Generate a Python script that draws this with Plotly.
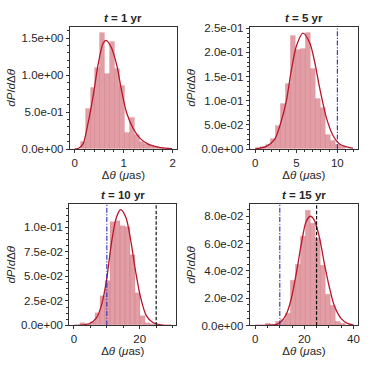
import numpy as np
import plotly.graph_objects as go

# ---------------- data ----------------
titles = ["<b><i>t</i> = 1 yr</b>", "<b><i>t</i> = 5 yr</b>",
          "<b><i>t</i> = 10 yr</b>", "<b><i>t</i> = 15 yr</b>"]

# panel 1 (t = 1 yr)
p1_bin_start = 0.12
p1_bin_width = 0.10
p1_hist = [0.10, 0.55, 0.83, 1.10, 1.575, 1.02, 1.45, 1.08, 0.85, 0.22, 0.43,
           0.20, 0.10, 0.07, 0.04, 0.03, 0.02, 0.01]
p1_curve_x = [0.0, 0.08, 0.17, 0.27, 0.38, 0.48, 0.58, 0.64, 0.75, 0.86, 0.96,
              1.06, 1.20, 1.34, 1.50, 1.68, 1.85, 1.99]
p1_curve_y = [0.0, 0.01, 0.07, 0.34, 0.73, 1.15, 1.43, 1.47, 1.37, 1.13, 0.78,
              0.49, 0.27, 0.14, 0.066, 0.03, 0.012, 0.005]
p1_xticks = [0, 1, 2]
p1_yticks = [0.0, 0.5, 1.0, 1.5]
p1_yticktext = ["0.0e+00", "5.0e-01", "1.0e+00", "1.5e+00"]

# panel 2 (t = 5 yr)
p2_bin_start = 0.08
p2_bin_width = 0.61
p2_hist = [0.002, 0.005, 0.010, 0.022, 0.048, 0.093, 0.136, 0.235, 0.205, 0.207,
           0.241, 0.167, 0.105, 0.086, 0.029, 0.017, 0.010, 0.005]
p2_curve_x = [0.0, 1.3, 2.36, 3.17, 3.78, 4.39, 5.0, 5.8, 6.63, 7.24, 7.85, 8.66,
              9.47, 10.3, 11.5, 11.9]
p2_curve_y = [0.0005, 0.005, 0.02, 0.058, 0.099, 0.163, 0.213, 0.240, 0.220, 0.180,
              0.126, 0.065, 0.028, 0.010, 0.003, 0.002]
p2_xticks = [0, 5, 10]
p2_yticks = [0.0, 0.05, 0.10, 0.15, 0.20, 0.25]
p2_yticktext = ["0.0e+00", "5.0e-02", "1.0e-01", "1.5e-01", "2.0e-01", "2.5e-01"]
p2_vline_blue = [10]
p2_vline_black = []

# panel 3 (t = 10 yr)
p3_bin_start = 1.82
p3_bin_width = 1.52
p3_hist = [0.0026, 0.001, 0.0036, 0.013, 0.030, 0.045, 0.105, 0.106, 0.101, 0.100,
           0.072, 0.033, 0.010, 0.003, 0.001]
p3_curve_x = [0.0, 1.8, 4.8, 6.9, 8.4, 9.9, 11.4, 12.9, 14.2, 15.8, 17.3, 18.8,
              20.3, 22.0, 24.0, 27.0, 29.6]
p3_curve_y = [0.0, 0.0003, 0.002, 0.008, 0.021, 0.046, 0.084, 0.110, 0.118, 0.110,
              0.086, 0.054, 0.028, 0.010, 0.003, 0.0003, 0.0]
p3_xticks = [0, 20]
p3_yticks = [0.0, 0.025, 0.05, 0.075, 0.10]
p3_yticktext = ["0.0e+00", "2.5e-02", "5.0e-02", "7.5e-02", "1.0e-01"]
p3_vline_blue = [10]
p3_vline_black = [25]

# panel 4 (t = 15 yr)
p4_bin_start = 4.34
p4_bin_width = 2.03
p4_hist = [0.0014, 0.0005, 0.0026, 0.0045, 0.0085, 0.033, 0.045, 0.065, 0.0845,
           0.075, 0.064, 0.044, 0.023, 0.0145, 0.003, 0.0014]
p4_curve_x = [0.0, 5.8, 8.5, 10.6, 12.6, 14.6, 16.7, 18.7, 20.7, 22.5, 24.1, 26.2,
              28.2, 30.2, 32.3, 35.0, 37.7, 40.0]
p4_curve_y = [0.0, 0.0002, 0.0007, 0.003, 0.008, 0.019, 0.038, 0.059, 0.076, 0.080,
              0.077, 0.064, 0.045, 0.028, 0.014, 0.005, 0.0014, 0.0005]
p4_xticks = [0, 20, 40]
p4_yticks = [0.0, 0.02, 0.04, 0.06, 0.08]
p4_yticktext = ["0.0e+00", "2.0e-02", "4.0e-02", "6.0e-02", "8.0e-02"]
p4_vline_blue = [10]
p4_vline_black = [25]

xlabel = "Δ<i>θ</i> (<i>μ</i>as)"
ylabel = "<i>dP</i>/<i>d</i>Δ<i>θ</i>"

# ---------------- layout / style ----------------
W = H = 374
panels = [
    dict(start=p1_bin_start, w=p1_bin_width, h=p1_hist, cx=p1_curve_x, cy=p1_curve_y,
         xt=p1_xticks, yt=p1_yticks, ytt=p1_yticktext, blue=[], black=[],
         xr=[-0.10, 2.09], yr=[0, 1.654], xminor=0.2, yminor=0.1,
         box=(70, 177.5, 23.3, 149)),
    dict(start=p2_bin_start, w=p2_bin_width, h=p2_hist, cx=p2_curve_x, cy=p2_curve_y,
         xt=p2_xticks, yt=p2_yticks, ytt=p2_yticktext, blue=p2_vline_blue, black=p2_vline_black,
         xr=[-0.69, 12.52], yr=[0, 0.2534], xminor=1, yminor=0.01,
         box=(250.3, 359, 23.3, 149)),
    dict(start=p3_bin_start, w=p3_bin_width, h=p3_hist, cx=p3_curve_x, cy=p3_curve_y,
         xt=p3_xticks, yt=p3_yticks, ytt=p3_yticktext, blue=p3_vline_blue, black=p3_vline_black,
         xr=[-1.41, 31.1], yr=[0, 0.1238], xminor=5, yminor=0.00625,
         box=(69.5, 176.7, 205.5, 330.3)),
    dict(start=p4_bin_start, w=p4_bin_width, h=p4_hist, cx=p4_curve_x, cy=p4_curve_y,
         xt=p4_xticks, yt=p4_yticks, ytt=p4_yticktext, blue=p4_vline_blue, black=p4_vline_black,
         xr=[-2.3, 42.0], yr=[0, 0.0886], xminor=5, yminor=0.005,
         box=(250.3, 359.3, 206, 330.3)),
]

FONT = "Liberation Sans, Arial, sans-serif"
TXT = "#262626"
FRAME = "#333333"
BAR_FILL = "rgba(190,40,55,0.45)"
BAR_EDGE = "rgba(178,24,43,0.15)"
CURVE = "#b5172b"

fig = go.Figure()
shapes = []
annotations = []
layout_axes = {}

for i, p in enumerate(panels, start=1):
    sfx = "" if i == 1 else str(i)
    xa, ya = "x" + sfx, "y" + sfx
    n = len(p["h"])
    edges = p["start"] + p["w"] * np.arange(n + 1)
    centers = 0.5 * (edges[:-1] + edges[1:])
    fig.add_trace(go.Bar(x=centers, y=p["h"], width=p["w"], xaxis=xa, yaxis=ya,
                         marker=dict(color=BAR_FILL, line=dict(color=BAR_EDGE, width=0.6)),
                         showlegend=False, hoverinfo="skip"))
    fig.add_trace(go.Scatter(x=p["cx"], y=p["cy"], mode="lines", xaxis=xa, yaxis=ya,
                             line=dict(color=CURVE, width=1.3, shape="spline", smoothing=0.8),
                             showlegend=False, hoverinfo="skip"))
    for v in p["blue"]:
        shapes.append(dict(type="line", xref=xa, yref=ya + " domain", x0=v, x1=v, y0=0, y1=1,
                           line=dict(color="#2b2bb8", width=1.1, dash="5px,1.6px,1.2px,1.6px")))
    for v in p["black"]:
        shapes.append(dict(type="line", xref=xa, yref=ya + " domain", x0=v, x1=v, y0=0, y1=1,
                           line=dict(color="black", width=1.1, dash="3.5px,1.8px")))

    x0, x1, y0, y1 = p["box"]
    xdom = [x0 / W, x1 / W]
    ydom = [1 - y1 / H, 1 - y0 / H]
    common = dict(showline=True, mirror=True, linecolor=FRAME, linewidth=1,
                  showgrid=False, zeroline=False, ticks="outside", ticklen=3,
                  tickwidth=0.8, tickcolor=FRAME,
                  tickfont=dict(family=FONT, size=11.5, color=TXT))
    layout_axes["xaxis" + sfx] = dict(
        domain=xdom, anchor=ya, range=p["xr"], tickmode="array",
        tickvals=p["xt"], ticktext=[str(t) for t in p["xt"]],
        minor=dict(ticks="outside", tickmode="linear", tick0=0, dtick=p["xminor"],
                   ticklen=2, tickwidth=0.6, tickcolor=FRAME),
        title=dict(text=xlabel, font=dict(family=FONT, size=11.5, color=TXT), standoff=0),
        **common)
    layout_axes["yaxis" + sfx] = dict(
        domain=ydom, anchor=xa, range=p["yr"], tickmode="array",
        tickvals=p["yt"], ticktext=p["ytt"],
        minor=dict(ticks="outside", tickmode="linear", tick0=0, dtick=p["yminor"],
                   ticklen=2, tickwidth=0.6, tickcolor=FRAME),
        title=dict(text=ylabel, font=dict(family=FONT, size=11.5, color=TXT), standoff=3),
        **common)
    annotations.append(dict(text=titles[i - 1], xref="paper", yref="paper",
                            x=(xdom[0] + xdom[1]) / 2, y=ydom[1], yshift=1,
                            xanchor="center", yanchor="bottom", showarrow=False,
                            font=dict(family=FONT, size=11.5, color=TXT)))

fig.update_layout(width=W, height=H, margin=dict(l=0, r=0, t=0, b=0),
                  paper_bgcolor="white", plot_bgcolor="white", bargap=0,
                  shapes=shapes, annotations=annotations, **layout_axes)
fig.write_html("out.html", config={"displayModeBar": False},
               post_script="document.body.style.margin='0';document.body.style.padding='0';")
